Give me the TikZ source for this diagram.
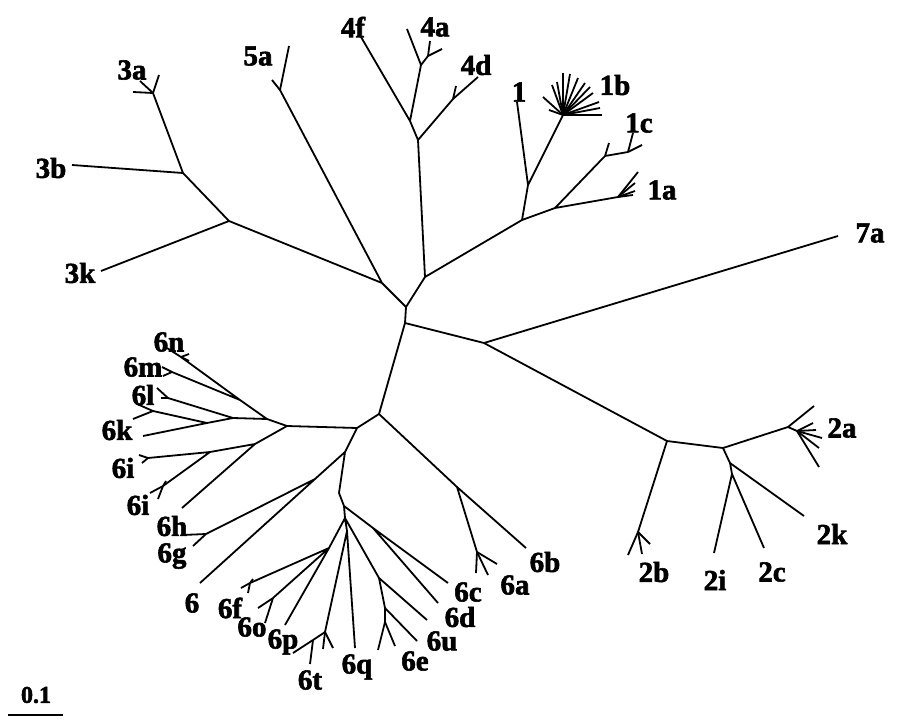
\documentclass[tikz,border=0pt]{standalone}
\usepackage{fontspec}
\setmainfont{Liberation Serif}
\newfontfamily\treefont{Liberation Serif}[BoldFeatures={FakeBold=2}]
\begin{document}
\begin{tikzpicture}[%
    x=1pt, y=-1pt,
    every node/.style = {draw=none, fill=none, inner sep=0pt, font=\treefont\fontsize{29}{29}\selectfont\bfseries},
    branch/.style = {draw=black, line width=1.8pt, line join=round},
    scalelabel/.style = {font=\treefont\fontsize{24}{24}\selectfont\bfseries}%
  ]
  \useasboundingbox (0,0) rectangle (921,720);

  % inner nodes
  \coordinate (u0) at (406,307);
  \coordinate (v0) at (405,323);
  \coordinate (a0) at (382,283);
  \coordinate (b0) at (425,277);
  \coordinate (r0) at (484,343);
  \coordinate (g0) at (379,414);
  \draw[branch] (a0) -- (u0) -- (b0) (u0) -- (v0) -- (r0) (v0) -- (g0);

  % clade 3 / 5
  \coordinate (c3) at (229,221);
  \coordinate (c3b) at (183,173);
  \coordinate (n3a) at (153,93);
  \coordinate (t3b) at (72,165);
  \coordinate (t3k) at (101,271);
  \coordinate (n5a) at (280,90);
  \coordinate (t5a) at (289,46);
  \draw[branch] (a0) -- (c3) -- (c3b) -- (n3a) (c3b) -- (t3b) (c3) -- (t3k)
    (a0) -- (n5a) -- (t5a);
  \foreach \x/\y [count=\i] in {133/92, 140/81, 159/75}
    {\coordinate (f3a\i) at (\x,\y); \draw[branch] (n3a) -- (f3a\i);}
  \coordinate (f5a) at (272,80);
  \draw[branch] (n5a) -- (f5a);

  % clade 4
  \coordinate (c4) at (418,140);
  \coordinate (c4f) at (410,121);
  \coordinate (t4f) at (361,37);
  \coordinate (c4a) at (421,65);
  \coordinate (t4a) at (407,29);
  \coordinate (n4a) at (428,56);
  \coordinate (n4d) at (453,99);
  \coordinate (t4d) at (478,77);
  \coordinate (f4d) at (456,86);
  \draw[branch] (b0) -- (c4) -- (c4f) -- (t4f) (c4f) -- (c4a) -- (t4a) (c4a) -- (n4a)
    (c4) -- (n4d) -- (t4d) (n4d) -- (f4d);
  \foreach \x/\y [count=\i] in {430/41, 442/49}
    {\coordinate (f4a\i) at (\x,\y); \draw[branch] (n4a) -- (f4a\i);}

  % clade 1
  \coordinate (c1) at (522,220);
  \coordinate (c1x) at (528,185);
  \coordinate (t1) at (517,102);
  \coordinate (n1b) at (563,115);
  \coordinate (c1y) at (555,208);
  \coordinate (n1a) at (618,197);
  \coordinate (n1c) at (605,156);
  \coordinate (f1c) at (609,143);
  \coordinate (n1c2) at (628,152);
  \draw[branch] (b0) -- (c1) -- (c1x) -- (t1) (c1x) -- (n1b)
    (c1) -- (c1y) -- (n1a) (c1y) -- (n1c) -- (f1c) (n1c) -- (n1c2);
  \foreach \x/\y [count=\i] in {633/133, 642/145}
    {\coordinate (f1cc\i) at (\x,\y); \draw[branch] (n1c2) -- (f1cc\i);}
  \foreach \x/\y [count=\i] in {638/172, 635/183, 635/191, 633/195}
    {\coordinate (f1a\i) at (\x,\y); \draw[branch] (n1a) -- (f1a\i);}
  \foreach \x/\y [count=\i] in {549/110, 543/97, 552/85, 557/82, 563/73, 570/74, 578/78,
      585/83, 590/87, 593/93, 599/102, 600/108, 602/115}
    {\coordinate (f1b\i) at (\x,\y); \draw[branch] (n1b) -- (f1b\i);}

  % 7a
  \coordinate (t7a) at (838,236);
  \draw[branch] (r0) -- (t7a);

  % clade 2
  \coordinate (c2) at (667,441);
  \coordinate (n2b) at (638,532);
  \coordinate (d2) at (723,448);
  \coordinate (n2a) at (788,427);
  \coordinate (n2a2) at (797,431);
  \coordinate (e2) at (730,463);
  \coordinate (t2k) at (804,516);
  \coordinate (f2) at (732,474);
  \coordinate (t2i) at (714,553);
  \coordinate (t2c) at (764,548);
  \coordinate (f2a) at (814,406);
  \draw[branch] (r0) -- (c2) -- (n2b) (c2) -- (d2) -- (n2a) -- (f2a) (n2a) -- (n2a2)
    (d2) -- (e2) -- (t2k) (e2) -- (f2) -- (t2i) (f2) -- (t2c);
  \foreach \x/\y [count=\i] in {813/423, 816/430, 822/438, 819/448, 819/467}
    {\coordinate (f2aa\i) at (\x,\y); \draw[branch] (n2a2) -- (f2aa\i);}
  \foreach \x/\y [count=\i] in {628/555, 642/554, 650/544}
    {\coordinate (f2b\i) at (\x,\y); \draw[branch] (n2b) -- (f2b\i);}

  % clade 6
  \coordinate (h6) at (357,428);
  \coordinate (i6) at (345,452);
  \coordinate (j6) at (339,493);
  \coordinate (k6) at (315,479);
  \coordinate (t6) at (200,583);
  \coordinate (n6h) at (206,534);
  \coordinate (p6ab) at (457,487);
  \coordinate (t6b) at (526,548);
  \coordinate (n6a) at (477,552);
  \draw[branch] (g0) -- (h6) -- (i6) -- (j6) (i6) -- (k6) -- (t6) (k6) -- (n6h)
    (g0) -- (p6ab) -- (t6b) (p6ab) -- (n6a);
  \foreach \x/\y [count=\i] in {182/535, 193/546}
    {\coordinate (f6h\i) at (\x,\y); \draw[branch] (n6h) -- (f6h\i);}
  \foreach \x/\y [count=\i] in {476/573, 488/575, 497/564}
    {\coordinate (f6a\i) at (\x,\y); \draw[branch] (n6a) -- (f6a\i);}

  \coordinate (m6) at (344,506);
  \coordinate (c6cd) at (373,528);
  \coordinate (t6c) at (448,583);
  \coordinate (t6d) at (438,603);
  \coordinate (n6) at (345,518);
  \coordinate (p6) at (329,548);
  \coordinate (n6f) at (250,583);
  \coordinate (n6o) at (273,598);
  \coordinate (t6p) at (285,625);
  \coordinate (q6) at (347,531);
  \coordinate (n6t) at (325,632);
  \coordinate (n6t2) at (313,640);
  \coordinate (t6q) at (355,648);
  \coordinate (s6) at (379,578);
  \coordinate (t6u) at (427,620);
  \coordinate (n6e) at (385,608);
  \coordinate (t6e) at (417,641);
  \coordinate (n6e2) at (385,622);
  \draw[branch] (j6) -- (m6) -- (c6cd) -- (t6c) (c6cd) -- (t6d) (m6) -- (n6)
    (n6) -- (p6) -- (n6f) (p6) -- (n6o) (p6) -- (t6p)
    (n6) -- (q6) -- (n6t) (q6) -- (t6q) (n6t) -- (n6t2)
    (n6) -- (s6) -- (t6u) (s6) -- (n6e) -- (t6e) (n6e) -- (n6e2);
  \foreach \x/\y [count=\i] in {241/588, 248/593, 253/579}
    {\coordinate (f6f\i) at (\x,\y); \draw[branch] (n6f) -- (f6f\i);}
  \foreach \x/\y [count=\i] in {258/608, 265/623}
    {\coordinate (f6o\i) at (\x,\y); \draw[branch] (n6o) -- (f6o\i);}
  \foreach \x/\y [count=\i] in {333/648, 323/649}
    {\coordinate (f6t\i) at (\x,\y); \draw[branch] (n6t) -- (f6t\i);}
  \foreach \x/\y [count=\i] in {293/653, 310/664}
    {\coordinate (f6tt\i) at (\x,\y); \draw[branch] (n6t2) -- (f6tt\i);}
  \foreach \x/\y [count=\i] in {378/650, 395/646}
    {\coordinate (f6e\i) at (\x,\y); \draw[branch] (n6e2) -- (f6e\i);}

  % clade 6, left fan
  \coordinate (l6) at (287,426);
  \coordinate (l61) at (267,419);
  \coordinate (l62) at (240,400);
  \coordinate (l63) at (233,418);
  \coordinate (l64) at (207,423);
  \coordinate (l65) at (255,444);
  \coordinate (l66) at (210,452);
  \coordinate (n6n) at (181,357);
  \coordinate (t6n) at (167,348);
  \coordinate (n6m) at (172,372);
  \coordinate (n6l) at (168,398);
  \coordinate (n6k) at (153,411);
  \coordinate (t6k) at (143,436);
  \coordinate (t6hh) at (182,508);
  \coordinate (n6i1) at (148,458);
  \coordinate (n6i2) at (163,486);
  \draw[branch] (h6) -- (l6) -- (l61) -- (l62) -- (n6n) -- (t6n) (l62) -- (n6m)
    (l61) -- (l63) -- (n6l) (l63) -- (l64) -- (t6k) (l64) -- (n6k)
    (l6) -- (l65) -- (t6hh) (l65) -- (l66) -- (n6i1) (l66) -- (n6i2);
  \foreach \x/\y [count=\i] in {189/354, 189/361}
    {\coordinate (f6n\i) at (\x,\y); \draw[branch] (n6n) -- (f6n\i);}
  \foreach \x/\y [count=\i] in {162/367, 163/376}
    {\coordinate (f6m\i) at (\x,\y); \draw[branch] (n6m) -- (f6m\i);}
  \foreach \x/\y [count=\i] in {157/388, 161/398}
    {\coordinate (f6l\i) at (\x,\y); \draw[branch] (n6l) -- (f6l\i);}
  \foreach \x/\y [count=\i] in {133/419, 137/404}
    {\coordinate (f6k\i) at (\x,\y); \draw[branch] (n6k) -- (f6k\i);}
  \foreach \x/\y [count=\i] in {139/455, 142/463}
    {\coordinate (f6i\i) at (\x,\y); \draw[branch] (n6i1) -- (f6i\i);}
  \foreach \x/\y [count=\i] in {150/493, 158/499, 166/481}
    {\coordinate (f6ii\i) at (\x,\y); \draw[branch] (n6i2) -- (f6ii\i);}

  % labels
  \node (l3a) at (132,70) {3a};
  \node (l3b) at (51,168) {3b};
  \node (l3k) at (80,273) {3k};
  \node (l5a) at (258,56) {5a};
  \node (l4f) at (353,27) {4f};
  \node (l4a) at (435,27) {4a};
  \node (l4d) at (476,65) {4d};
  \node (l1) at (519,92) {1};
  \node (l1b) at (615,85) {1b};
  \node (l1c) at (639,123) {1c};
  \node (l1a) at (662,190) {1a};
  \node (l7a) at (870,233) {7a};
  \node (l2a) at (842,428) {2a};
  \node (l2k) at (832,534) {2k};
  \node (l2b) at (654,572) {2b};
  \node (l2i) at (715,580) {2i};
  \node (l2c) at (772,572) {2c};
  \node (l6b) at (545,562) {6b};
  \node (l6a) at (515,585) {6a};
  \node (l6c) at (468,592) {6c};
  \node (l6d) at (460,617) {6d};
  \node (l6u) at (442,641) {6u};
  \node (l6e) at (415,661) {6e};
  \node (l6q) at (357,667) {6q};
  \node (l6t) at (310,680) {6t};
  \node (l6p) at (283,642) {6p};
  \node (l6o) at (252,627) {6o};
  \node (l6f) at (230,608) {6f};
  \node (l6) at (192,603) {6};
  \node (l6g) at (172,556) {6g};
  \node (l6h) at (172,526) {6h};
  \node (l6ii) at (138,505) {6i};
  \node (l6i) at (123,468) {6i};
  \node (l6k) at (117,430) {6k};
  \node (l6l) at (143,395) {6l};
  \node (l6m) at (143,367) {6m};
  \node (l6n) at (169,342) {6n};

  % scale bar
  \coordinate (sb1) at (8,715);
  \coordinate (sb2) at (63,715);
  \draw[branch] (sb1) -- (sb2);
  \node[scalelabel] (lsb) at (36,695) {0.1};
\end{tikzpicture}
\end{document}
